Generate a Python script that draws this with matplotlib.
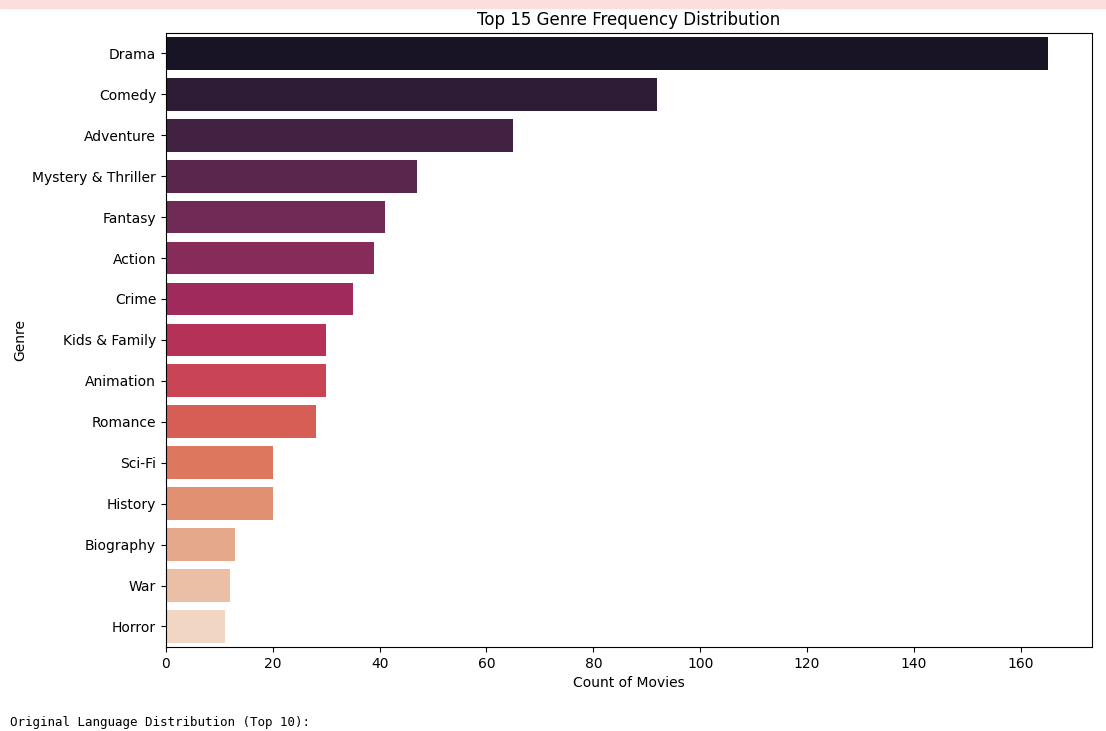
import matplotlib
matplotlib.use("Agg")
import matplotlib.pyplot as plt
import seaborn as sns

genres = ["Drama", "Comedy", "Adventure", "Mystery & Thriller", "Fantasy",
          "Action", "Crime", "Kids & Family", "Animation", "Romance",
          "Sci-Fi", "History", "Biography", "War", "Horror"]
counts = [165, 92, 65, 47, 41, 39, 35, 30, 30, 28, 20, 20, 13, 12, 11]

fig = plt.figure(figsize=(11.06, 7.31), dpi=100)
ax = fig.add_axes([0.150, 0.115, 0.837, 0.840])

# notebook output strip at the top of the screenshot
fig.patches.append(plt.Rectangle((0, 0.989), 1, 0.011, transform=fig.transFigure,
                                 color="#fddede", zorder=0))

sns.barplot(x=counts, y=genres, hue=genres, palette="rocket", legend=False, ax=ax)

ax.set_title("Top 15 Genre Frequency Distribution", fontsize=12)
ax.set_xlabel("Count of Movies")
ax.set_ylabel("Genre")

# next notebook output line, just visible at the bottom edge
fig.text(0.009, 0.003, "Original Language Distribution (Top 10):",
         family="DejaVu Sans Mono", fontsize=9, va="bottom")

fig.savefig("out.png", dpi=100)
